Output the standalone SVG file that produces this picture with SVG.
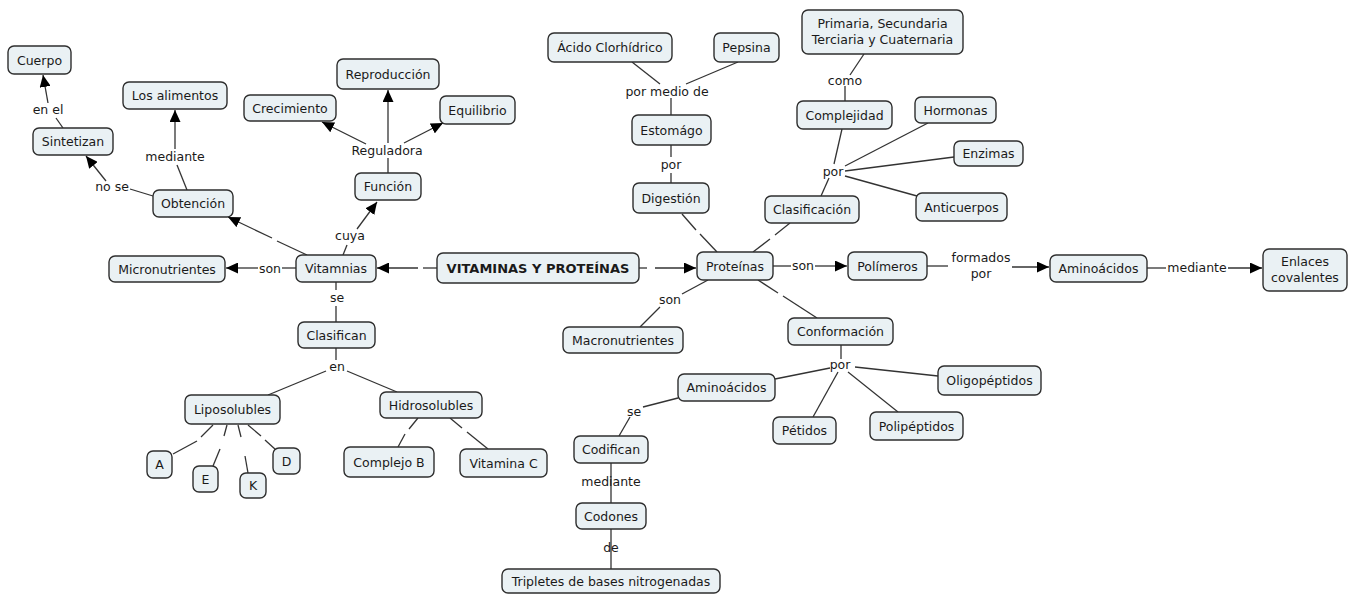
<svg xmlns="http://www.w3.org/2000/svg" width="1354" height="594" viewBox="0 0 1354 594">
<style>
.n rect{fill:#eaf1f4;stroke:#2e2e2e;stroke-width:1.4}
.t{font-family:"DejaVu Sans",Verdana,sans-serif;font-size:12.5px;fill:#1a1a1a;text-anchor:middle}
.b{font-weight:bold;font-size:13px}
.c line{stroke:#333;stroke-width:1.3;fill:none}
.a{marker-end:url(#arr)}
</style>
<defs>
<marker id="arr" markerUnits="userSpaceOnUse" markerWidth="13" markerHeight="11" refX="12" refY="5.5" orient="auto">
<path d="M0,0 L12,5.5 L0,11 z" fill="#000"/>
</marker>
</defs>
<rect width="1354" height="594" fill="#fff"/>

<g id="connectors" class="c">
<!-- Vitamnias side -->
<line x1="307" y1="255" x2="277" y2="241"/><line class="a" x1="272" y1="238" x2="228" y2="217"/>
<line x1="437" y1="268" x2="423" y2="268"/><line class="a" x1="418" y1="268" x2="377" y2="268"/>
<line x1="296" y1="268" x2="282" y2="268"/><line class="a" x1="258" y1="268" x2="226" y2="268"/>
<line x1="343" y1="255" x2="347" y2="245"/><line class="a" x1="357" y1="229" x2="377" y2="202"/>
<line x1="336" y1="282" x2="336" y2="290"/><line x1="336" y1="306" x2="336" y2="322"/>
<line x1="336" y1="348" x2="336" y2="360"/>
<line x1="326" y1="371" x2="268" y2="395"/><line x1="347" y1="371" x2="397" y2="392"/>
<line x1="213" y1="425" x2="201" y2="437"/><line x1="197" y1="441" x2="173" y2="454"/>
<line x1="227" y1="425" x2="224" y2="436"/><line x1="220" y1="449" x2="213" y2="466"/>
<line x1="238" y1="425" x2="241" y2="437"/><line x1="245" y1="456" x2="248" y2="473"/>
<line x1="248" y1="425" x2="261" y2="436"/><line x1="265" y1="440" x2="276" y2="450"/>
<line x1="418" y1="418" x2="409" y2="429"/><line x1="405" y1="434" x2="398" y2="447"/>
<line x1="450" y1="418" x2="462" y2="428"/><line x1="467" y1="432" x2="488" y2="449"/>
<line x1="153" y1="196" x2="130" y2="189"/><line class="a" x1="106" y1="181" x2="86" y2="156"/>
<line x1="63" y1="128" x2="56" y2="118"/><line class="a" x1="48" y1="103" x2="43" y2="75"/>
<line x1="187" y1="190" x2="177" y2="165"/><line class="a" x1="175" y1="149" x2="175" y2="110"/>
<line x1="388" y1="173" x2="388" y2="158"/>
<line class="a" x1="388" y1="143" x2="388" y2="90"/>
<line class="a" x1="366" y1="144" x2="322" y2="122"/>
<line class="a" x1="404" y1="143" x2="443" y2="123"/>
<!-- Proteinas side -->
<line x1="639" y1="268" x2="647" y2="268"/><line class="a" x1="655" y1="268" x2="696" y2="268"/>
<line x1="682" y1="214" x2="696" y2="230"/><line x1="700" y1="234" x2="717" y2="252"/>
<line x1="753" y1="252" x2="770" y2="239"/><line x1="775" y1="235" x2="790" y2="223"/>
<line x1="758" y1="280" x2="778" y2="293"/><line x1="783" y1="296" x2="817" y2="318"/>
<line x1="632" y1="62" x2="660" y2="84"/><line x1="738" y1="62" x2="686" y2="84"/>
<line x1="671" y1="98" x2="671" y2="115"/>
<line x1="671" y1="145" x2="671" y2="157"/><line x1="671" y1="173" x2="671" y2="183"/>
<line x1="864" y1="54" x2="850" y2="75"/><line x1="845" y1="86" x2="845" y2="101"/>
<line x1="842" y1="129" x2="834" y2="164"/><line x1="829" y1="178" x2="821" y2="196"/>
<line x1="845" y1="166" x2="928" y2="123"/>
<line x1="845" y1="171" x2="954" y2="157"/>
<line x1="845" y1="176" x2="917" y2="196"/>
<line x1="773" y1="266" x2="791" y2="266"/><line class="a" x1="815" y1="266" x2="847" y2="266"/>
<line x1="927" y1="266" x2="948" y2="266"/><line class="a" x1="1012" y1="267" x2="1049" y2="267"/>
<line x1="1147" y1="268" x2="1166" y2="268"/><line class="a" x1="1228" y1="268" x2="1262" y2="268"/>
<line x1="708" y1="280" x2="682" y2="294"/><line x1="660" y1="307" x2="640" y2="327"/>
<line x1="841" y1="345" x2="841" y2="359"/>
<line x1="830" y1="368" x2="775" y2="379"/>
<line x1="855" y1="367" x2="938" y2="376"/>
<line x1="838" y1="372" x2="813" y2="417"/>
<line x1="848" y1="372" x2="898" y2="412"/>
<line x1="678" y1="398" x2="643" y2="407"/><line x1="630" y1="417" x2="619" y2="436"/>
<line x1="611" y1="463" x2="611" y2="503"/>
<line x1="611" y1="529" x2="611" y2="569"/>
</g>

<g id="labels" class="t">
<text x="48" y="114">en el</text>
<text x="175" y="161">mediante</text>
<text x="112" y="191">no se</text>
<text x="387" y="155">Reguladora</text>
<text x="350" y="240">cuya</text>
<text x="270" y="273">son</text>
<text x="337" y="302">se</text>
<text x="337" y="371">en</text>
<text x="667" y="96">por medio de</text>
<text x="671" y="169">por</text>
<text x="845" y="85">como</text>
<text x="833" y="176">por</text>
<text x="803" y="270">son</text>
<text x="981" y="262">formados</text>
<text x="981" y="278">por</text>
<text x="1197" y="272">mediante</text>
<text x="670" y="304">son</text>
<text x="840" y="369">por</text>
<text x="634" y="416">se</text>
<text x="611" y="486">mediante</text>
<text x="611" y="552">de</text>
</g>

<g id="n_cuerpo" class="n"><rect x="8" y="46" width="63" height="28" rx="6"/><text class="t" x="39.5" y="64.5">Cuerpo</text></g>
<g id="n_alimentos" class="n"><rect x="123" y="82" width="104" height="27" rx="6"/><text class="t" x="175" y="100">Los alimentos</text></g>
<g id="n_crecimiento" class="n"><rect x="244" y="95" width="92" height="26" rx="6"/><text class="t" x="290" y="112.5">Crecimiento</text></g>
<g id="n_sintetizan" class="n"><rect x="33" y="128" width="80" height="27" rx="6"/><text class="t" x="73" y="146">Sintetizan</text></g>
<g id="n_reproduccion" class="n"><rect x="337" y="59" width="102" height="30" rx="6"/><text class="t" x="388" y="78.5">Reproducción</text></g>
<g id="n_equilibrio" class="n"><rect x="440" y="96" width="75" height="28" rx="6"/><text class="t" x="477.5" y="114.5">Equilibrio</text></g>
<g id="n_funcion" class="n"><rect x="355" y="173" width="66" height="27" rx="6"/><text class="t" x="388" y="191">Función</text></g>
<g id="n_obtencion" class="n"><rect x="153" y="190" width="80" height="27" rx="6"/><text class="t" x="193" y="208">Obtención</text></g>
<g id="n_micronutrientes" class="n"><rect x="109" y="256" width="116" height="26" rx="6"/><text class="t" x="167" y="273.5">Micronutrientes</text></g>
<g id="n_vitamnias" class="n"><rect x="296" y="255" width="80" height="27" rx="6"/><text class="t" x="336" y="273">Vitamnias</text></g>
<g id="n_title" class="n"><rect x="437" y="253" width="202" height="30" rx="6"/><text class="t b" x="538" y="272.5">VITAMINAS Y PROTEÍNAS</text></g>
<g id="n_clasifican" class="n"><rect x="298" y="322" width="77" height="26" rx="6"/><text class="t" x="336.5" y="339.5">Clasifican</text></g>
<g id="n_liposolubles" class="n"><rect x="185" y="395" width="95" height="29" rx="6"/><text class="t" x="232.5" y="414">Liposolubles</text></g>
<g id="n_hidrosolubles" class="n"><rect x="380" y="392" width="102" height="26" rx="6"/><text class="t" x="431" y="409.5">Hidrosolubles</text></g>
<g id="n_a" class="n"><rect x="147" y="451" width="25" height="27" rx="6"/><text class="t" x="159.5" y="469">A</text></g>
<g id="n_e" class="n"><rect x="193" y="466" width="25" height="26" rx="6"/><text class="t" x="205.5" y="483.5">E</text></g>
<g id="n_k" class="n"><rect x="240" y="473" width="26" height="25" rx="6"/><text class="t" x="253" y="490">K</text></g>
<g id="n_d" class="n"><rect x="273" y="448" width="27" height="26" rx="6"/><text class="t" x="286.5" y="465.5">D</text></g>
<g id="n_complejob" class="n"><rect x="344" y="447" width="90" height="30" rx="6"/><text class="t" x="389" y="466.5">Complejo B</text></g>
<g id="n_vitaminac" class="n"><rect x="460" y="449" width="87" height="28" rx="6"/><text class="t" x="503.5" y="467.5">Vitamina C</text></g>
<g id="n_acido" class="n"><rect x="548" y="33" width="124" height="29" rx="6"/><text class="t" x="610" y="52">Ácido Clorhídrico</text></g>
<g id="n_pepsina" class="n"><rect x="714" y="33" width="65" height="29" rx="6"/><text class="t" x="746.5" y="52">Pepsina</text></g>
<g id="n_estomago" class="n"><rect x="632" y="115" width="79" height="30" rx="6"/><text class="t" x="671.5" y="134.5">Estomágo</text></g>
<g id="n_digestion" class="n"><rect x="633" y="183" width="76" height="30" rx="6"/><text class="t" x="671" y="202.5">Digestión</text></g>
<g id="n_proteinas" class="n"><rect x="697" y="252" width="76" height="28" rx="6"/><text class="t" x="735" y="270.5">Proteínas</text></g>
<g id="n_primaria" class="n"><rect x="802" y="10" width="161" height="44" rx="6"/><text class="t" x="882.5" y="28">Primaria, Secundaria</text><text class="t" x="882.5" y="44">Terciaria y Cuaternaria</text></g>
<g id="n_complejidad" class="n"><rect x="797" y="101" width="95" height="28" rx="6"/><text class="t" x="844.5" y="119.5">Complejidad</text></g>
<g id="n_hormonas" class="n"><rect x="915" y="97" width="81" height="26" rx="6"/><text class="t" x="955.5" y="114.5">Hormonas</text></g>
<g id="n_enzimas" class="n"><rect x="954" y="141" width="69" height="25" rx="6"/><text class="t" x="988.5" y="158">Enzimas</text></g>
<g id="n_anticuerpos" class="n"><rect x="916" y="193" width="91" height="28" rx="6"/><text class="t" x="961.5" y="211.5">Anticuerpos</text></g>
<g id="n_clasificacion" class="n"><rect x="765" y="196" width="94" height="27" rx="6"/><text class="t" x="812" y="214">Clasificación</text></g>
<g id="n_polimeros" class="n"><rect x="848" y="252" width="79" height="28" rx="6"/><text class="t" x="887.5" y="270.5">Polímeros</text></g>
<g id="n_aminoacidos1" class="n"><rect x="1050" y="255" width="97" height="27" rx="6"/><text class="t" x="1098.5" y="273">Aminoácidos</text></g>
<g id="n_enlaces" class="n"><rect x="1263" y="249" width="84" height="42" rx="6"/><text class="t" x="1305" y="266">Enlaces</text><text class="t" x="1305" y="282">covalentes</text></g>
<g id="n_macronutrientes" class="n"><rect x="563" y="327" width="120" height="26" rx="6"/><text class="t" x="623" y="344.5">Macronutrientes</text></g>
<g id="n_conformacion" class="n"><rect x="788" y="318" width="105" height="27" rx="6"/><text class="t" x="840.5" y="336">Conformación</text></g>
<g id="n_aminoacidos2" class="n"><rect x="678" y="374" width="97" height="27" rx="6"/><text class="t" x="726.5" y="392">Aminoácidos</text></g>
<g id="n_oligopeptidos" class="n"><rect x="938" y="366" width="103" height="29" rx="6"/><text class="t" x="989.5" y="385">Oligopéptidos</text></g>
<g id="n_petidos" class="n"><rect x="773" y="417" width="63" height="27" rx="6"/><text class="t" x="804.5" y="435">Pétidos</text></g>
<g id="n_polipeptidos" class="n"><rect x="870" y="412" width="93" height="28" rx="6"/><text class="t" x="916.5" y="430.5">Polipéptidos</text></g>
<g id="n_codifican" class="n"><rect x="574" y="436" width="74" height="27" rx="6"/><text class="t" x="611" y="454">Codifican</text></g>
<g id="n_codones" class="n"><rect x="576" y="503" width="70" height="26" rx="6"/><text class="t" x="611" y="520.5">Codones</text></g>
<g id="n_tripletes" class="n"><rect x="502" y="569" width="218" height="24" rx="6"/><text class="t" x="611" y="585.5">Tripletes de bases nitrogenadas</text></g>
</svg>
